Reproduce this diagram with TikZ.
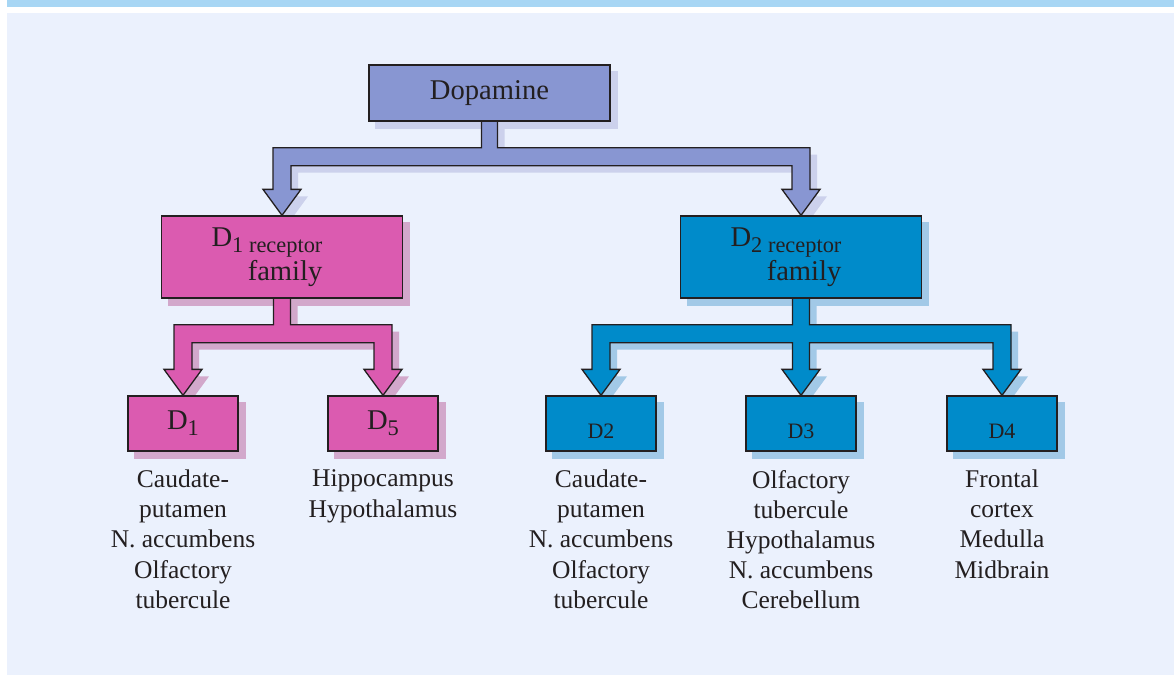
\documentclass[tikz,border=0pt]{standalone}
\usepackage{fontspec}
\setmainfont{Liberation Serif}
\usepackage{tikz}
\usetikzlibrary{calc, positioning, backgrounds, shadows}
\usepackage{xcolor}
\definecolor{PanelBlue}{HTML}{EBF1FD}
\definecolor{BarBlue}{HTML}{A7D6F4}
\definecolor{DopaFill}{HTML}{8896D2}
\definecolor{DopaShade}{HTML}{CCD1EC}
\definecolor{OneFill}{HTML}{DB5BB0}
\definecolor{OneShade}{HTML}{D2A8CB}
\definecolor{TwoFill}{HTML}{008BCA}
\definecolor{TwoShade}{HTML}{A2C9E7}
\definecolor{EdgeDark}{HTML}{231F20}
\newcommand{\subtext}[1]{{\fontsize{11.2}{13}\selectfont\raisebox{-3pt}{#1}}}
\tikzset{
    % Box styles
    dopbox/.style={
        rectangle,
        draw=EdgeDark,
        fill=DopaFill,
        line width=0.65pt,
        minimum width=120.5pt,
        minimum height=28pt,
        inner sep=0pt,
        text=EdgeDark,
        font=\fontsize{14.3}{17}\selectfont
    },
    familybox/.style={
        rectangle,
        draw=EdgeDark,
        line width=0.65pt,
        minimum width=120.5pt,
        minimum height=41pt,
        inner sep=0pt,
        align=right,
        text=EdgeDark,
        font=\fontsize{14.3}{17}\selectfont
    },
    subtypebox/.style={
        rectangle,
        draw=EdgeDark,
        line width=0.65pt,
        minimum width=55pt,
        minimum height=27.5pt,
        inner sep=0pt,
        text=EdgeDark,
        font=\fontsize{14.3}{17}\selectfont
    },
    smalltypebox/.style={
        subtypebox,
        font=\fontsize{11}{13}\selectfont,
        text height=14.5pt,
        text depth=0pt
    },
    regionlabel/.style={
        inner sep=0pt,
        align=center,
        text=EdgeDark,
        font=\fontsize{12.75}{15.05}\selectfont
    },
    % Block arrow styles
    blockarrow/.style={
        draw=EdgeDark,
        line width=0.65pt,
        line join=miter
    },
    dopconn/.style={
        blockarrow,
        fill=DopaFill,
        drop shadow={shadow xshift=3.5pt, shadow yshift=-3.5pt, fill=DopaShade, opacity=1}
    },
    oneconn/.style={
        blockarrow,
        fill=OneFill,
        drop shadow={shadow xshift=3.5pt, shadow yshift=-3.5pt, fill=OneShade, opacity=1}
    },
    twoconn/.style={
        blockarrow,
        fill=TwoFill,
        drop shadow={shadow xshift=3.5pt, shadow yshift=-3.5pt, fill=TwoShade, opacity=1}
    }
}

\begin{document}
\begin{tikzpicture}[x=0.5pt, y=-0.5pt]
                \useasboundingbox (0,0) rectangle (1174,675);

                % Top level
                \node[dopbox] (dop) at (489.5,93) {Dopamine};

                % Receptor families
                \node[familybox, fill=OneFill] (fam1) at (282,257) {D\subtext{1 receptor}\hspace*{15pt}\\family\hspace*{15pt}};
                \node[familybox, fill=TwoFill] (fam2) at (801,257) {D\subtext{2 receptor}\hspace*{15pt}\\family\hspace*{15pt}};

                % Subtypes
                \node[subtypebox, fill=OneFill] (d1) at (183,423.5) {D\subtext{1}};
                \node[subtypebox, fill=OneFill] (d5) at (383,423.5) {D\subtext{5}};
                \node[smalltypebox, fill=TwoFill] (d2) at (601,423.5) {D2};
                \node[smalltypebox, fill=TwoFill] (d3) at (801,423.5) {D3};
                \node[smalltypebox, fill=TwoFill] (d4) at (1002,423.5) {D4};

                % Brain regions
                \node[regionlabel, below=9pt of d1] (reg1) {Caudate-\\putamen\\N. accumbens\\Olfactory\\tubercule};
                \node[regionlabel, below=9pt of d5] (reg5) {Hippocampus\\Hypothalamus};
                \node[regionlabel, below=9pt of d2] (reg2) {Caudate-\\putamen\\N. accumbens\\Olfactory\\tubercule};
                \node[regionlabel, below=9pt of d3] (reg3) {Olfactory\\tubercule\\Hypothalamus\\N. accumbens\\Cerebellum};
                \node[regionlabel, below=9pt of d4] (reg4) {Frontal\\cortex\\Medulla\\Midbrain};

                \begin{pgfonlayer}{background}
                % Panel
                \fill[BarBlue] (7,0) rectangle (1174,7);
                \fill[PanelBlue] (7,13) rectangle (1174,675);

                % Box shadows
                \foreach \n/\c in {dop/DopaShade, fam1/OneShade, d1/OneShade, d5/OneShade, fam2/TwoShade, d2/TwoShade, d3/TwoShade, d4/TwoShade}
                    \fill[\c] ($(\n.south west)+(7,7)$) rectangle ($(\n.north east)+(7,7)$);

                % Dopamine to families
                \draw[dopconn] let \p1=(dop.south), \p2=(fam1.north), \p3=(fam2.north) in
                    (\x1-4pt,\y1+2pt) -- (\x1-4pt,\y1-13pt) -- (\x2-4.5pt,\y1-13pt) -- (\x2-4.5pt,\y2+13pt)
                    -- (\x2-9.5pt,\y2+13pt) -- (\x2,\y2) -- (\x2+9.5pt,\y2+13pt) -- (\x2+4.5pt,\y2+13pt)
                    -- (\x2+4.5pt,\y1-22pt) -- (\x3-4.5pt,\y1-22pt) -- (\x3-4.5pt,\y2+13pt)
                    -- (\x3-9.5pt,\y2+13pt) -- (\x3,\y2) -- (\x3+9.5pt,\y2+13pt) -- (\x3+4.5pt,\y2+13pt)
                    -- (\x3+4.5pt,\y1-13pt) -- (\x1+4pt,\y1-13pt) -- (\x1+4pt,\y1+2pt) -- cycle;

                % D1 family to D1, D5
                \draw[oneconn] let \p1=(fam1.south), \p2=(d1.north), \p3=(d5.north) in
                    (\x1-4.25pt,\y1+2pt) -- (\x1-4.25pt,\y1-13pt) -- (\x2-4.5pt,\y1-13pt) -- (\x2-4.5pt,\y2+13pt)
                    -- (\x2-9.5pt,\y2+13pt) -- (\x2,\y2) -- (\x2+9.5pt,\y2+13pt) -- (\x2+4.5pt,\y2+13pt)
                    -- (\x2+4.5pt,\y1-22pt) -- (\x3-4.5pt,\y1-22pt) -- (\x3-4.5pt,\y2+13pt)
                    -- (\x3-9.5pt,\y2+13pt) -- (\x3,\y2) -- (\x3+9.5pt,\y2+13pt) -- (\x3+4.5pt,\y2+13pt)
                    -- (\x3+4.5pt,\y1-13pt) -- (\x1+4.25pt,\y1-13pt) -- (\x1+4.25pt,\y1+2pt) -- cycle;

                % D2 family to D2, D3, D4
                \draw[twoconn] let \p1=(fam2.south), \p2=(d2.north), \p3=(d3.north), \p4=(d4.north) in
                    (\x1-4.25pt,\y1+2pt) -- (\x1-4.25pt,\y1-13pt) -- (\x2-4.5pt,\y1-13pt) -- (\x2-4.5pt,\y2+13pt)
                    -- (\x2-9.5pt,\y2+13pt) -- (\x2,\y2) -- (\x2+9.5pt,\y2+13pt) -- (\x2+4.5pt,\y2+13pt)
                    -- (\x2+4.5pt,\y1-22pt) -- (\x3-4.25pt,\y1-22pt) -- (\x3-4.25pt,\y2+13pt)
                    -- (\x3-9.5pt,\y2+13pt) -- (\x3,\y2) -- (\x3+9.5pt,\y2+13pt) -- (\x3+4.25pt,\y2+13pt)
                    -- (\x3+4.25pt,\y1-22pt) -- (\x4-4.5pt,\y1-22pt) -- (\x4-4.5pt,\y2+13pt)
                    -- (\x4-9.5pt,\y2+13pt) -- (\x4,\y2) -- (\x4+9.5pt,\y2+13pt) -- (\x4+4.5pt,\y2+13pt)
                    -- (\x4+4.5pt,\y1-13pt) -- (\x1+4.25pt,\y1-13pt) -- (\x1+4.25pt,\y1+2pt) -- cycle;
                \end{pgfonlayer}
            \end{tikzpicture}
\end{document}
